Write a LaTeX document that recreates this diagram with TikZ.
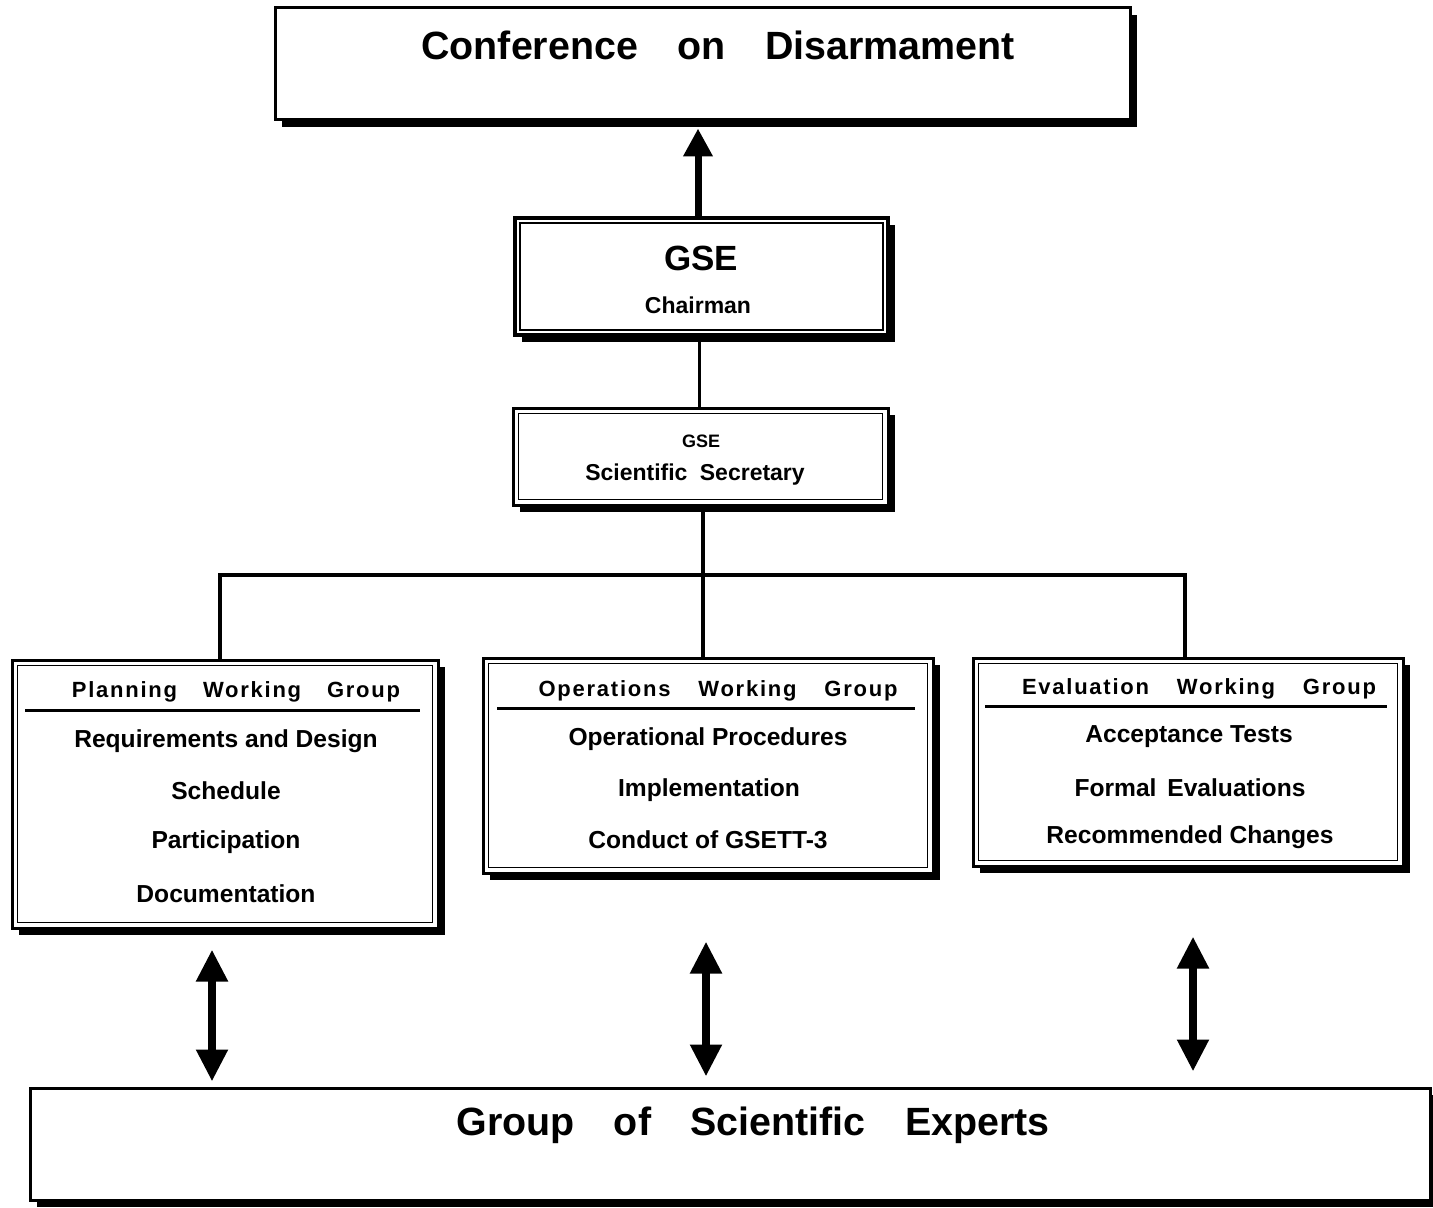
\documentclass[tikz,border=0pt]{standalone}
\usepackage{fontspec}
\setmainfont{Liberation Sans}
\newfontfamily\hdrfont{Liberation Sans}[LetterSpace=8]
\usetikzlibrary{arrows.meta,shadows}
\begin{document}
\begin{tikzpicture}[x=0.5pt,y=-0.5pt,
  box/.style={draw, line width=1.5pt, fill=white, inner sep=0pt,
    drop shadow={shadow xshift=3.5pt,shadow yshift=-3.5pt,fill=black,opacity=1}},
  inframe/.style={line width=0.9pt},
  rulebar/.style={line width=1.5pt},
  conn/.style={line width=1.6pt},
  bigarrow/.style={line width=3.5pt,-{Triangle[width=14pt,length=14pt]}},
  dblarrow/.style={line width=4pt,{Triangle[width=15pt,length=16pt]}-{Triangle[width=15pt,length=16pt]}},
  title/.style={inner sep=0pt, font=\bfseries\fontsize{19.7}{24}\selectfont},
  hdr/.style={inner sep=0pt, font=\hdrfont\bfseries\fontsize{11}{13}\selectfont},
  item/.style={inner sep=0pt, font=\bfseries\fontsize{12.3}{14}\selectfont},
]
\useasboundingbox[fill=white] (0,0) rectangle (1433,1208);

% boxes
\node[box, minimum width=427.5pt, minimum height=56pt] (conf) at (702.5,64) {};
\node[box, line width=2.2pt, minimum width=186.5pt, minimum height=58.5pt] (chair) at (701.5,276.5) {};
\node[box, minimum width=187.5pt, minimum height=48.5pt] (sec) at (700.5,456.5) {};
\node[box, minimum width=213pt, minimum height=134pt] (plan) at (225,794) {};
\node[box, minimum width=225pt, minimum height=107.5pt] (ops) at (708,765.5) {};
\node[box, minimum width=215pt, minimum height=104pt] (eval) at (1188,762) {};
\node[box, minimum width=700pt, minimum height=56pt] (gse) at (730,1144) {};

% inner frames
\foreach \b in {chair,sec,plan,ops,eval}
  \draw[inframe] ([shift={(3.5pt,-3.5pt)}]\b.north west) rectangle ([shift={(-3.5pt,3.5pt)}]\b.south east);

% texts
\node[title] (confT) at (718,45) {Conference\quad on\quad Disarmament};
\node[inner sep=0pt, font=\bfseries\fontsize{17.5}{20}\selectfont] (chairT1) at (701,258) {GSE};
\node[inner sep=0pt, font=\bfseries\fontsize{11.5}{13}\selectfont] (chairT2) at (698,305) {Chairman};
\node[inner sep=0pt, font=\bfseries\fontsize{9}{11}\selectfont] (secT1) at (701,441) {GSE};
\node[inner sep=0pt, font=\bfseries\fontsize{11.5}{13}\selectfont] (secT2) at (695,475) {Scientific\hspace{3pt} Secretary};

\node[hdr] (planH) at (236,692) {Planning\hspace{9pt} Working\hspace{9pt} Group};
\draw[rulebar] (25,710) -- (420,710);
\node[item] (planI1) at (226,741) {Requirements and Design};
\node[item] (planI2) at (226,791) {Schedule};
\node[item] (planI3) at (226,842) {Participation};
\node[item] (planI4) at (226,894) {Documentation};

\node[hdr] (opsH) at (718,691) {Operations\hspace{10pt} Working\hspace{10pt} Group};
\draw[rulebar] (497,708) -- (915,708);
\node[item] (opsI1) at (708,739) {Operational Procedures};
\node[item] (opsI2) at (709,790) {Implementation};
\node[item] (opsI3) at (708,840) {Conduct of GSETT-3};

\node[hdr] (evalH) at (1199,689) {Evaluation\hspace{10pt} Working\hspace{10pt} Group};
\draw[rulebar] (985,706) -- (1387,706);
\node[item] (evalI1) at (1189,737) {Acceptance Tests};
\node[item] (evalI2) at (1190,788) {Formal\hspace{2pt} Evaluations};
\node[item] (evalI3) at (1190,837) {Recommended Changes};

\node[title] (gseT) at (753,1125) {Group\quad of\quad Scientific\quad Experts};

% connectors
\draw[bigarrow] ([xshift=-1.75pt]chair.north) -- ([xshift=-1.75pt,yshift=-3.5pt]chair.north |- conf.south);
\draw[conn] ([xshift=-1pt]chair.south) -- ([xshift=-1pt]chair.south |- sec.north);
\coordinate (bus) at (703,575);
\draw[conn] ([xshift=1.25pt]sec.south) -- ([xshift=1.25pt]sec.south |- ops.north);
\draw[conn] ([xshift=-2.5pt]plan.north) |- (bus) -| ([xshift=-1.5pt]eval.north);

\draw[dblarrow, shorten <=10pt, shorten >=2.5pt] ([xshift=-6.5pt]plan.south) -- ([xshift=-6.5pt]plan.south |- gse.north);
\draw[dblarrow, shorten <=33.5pt, shorten >=5pt] ([xshift=-1pt]ops.south) -- ([xshift=-1pt]ops.south |- gse.north);
\draw[dblarrow, shorten <=34.5pt, shorten >=7.5pt] ([xshift=2.5pt]eval.south) -- ([xshift=2.5pt]eval.south |- gse.north);
\end{tikzpicture}
\end{document}
